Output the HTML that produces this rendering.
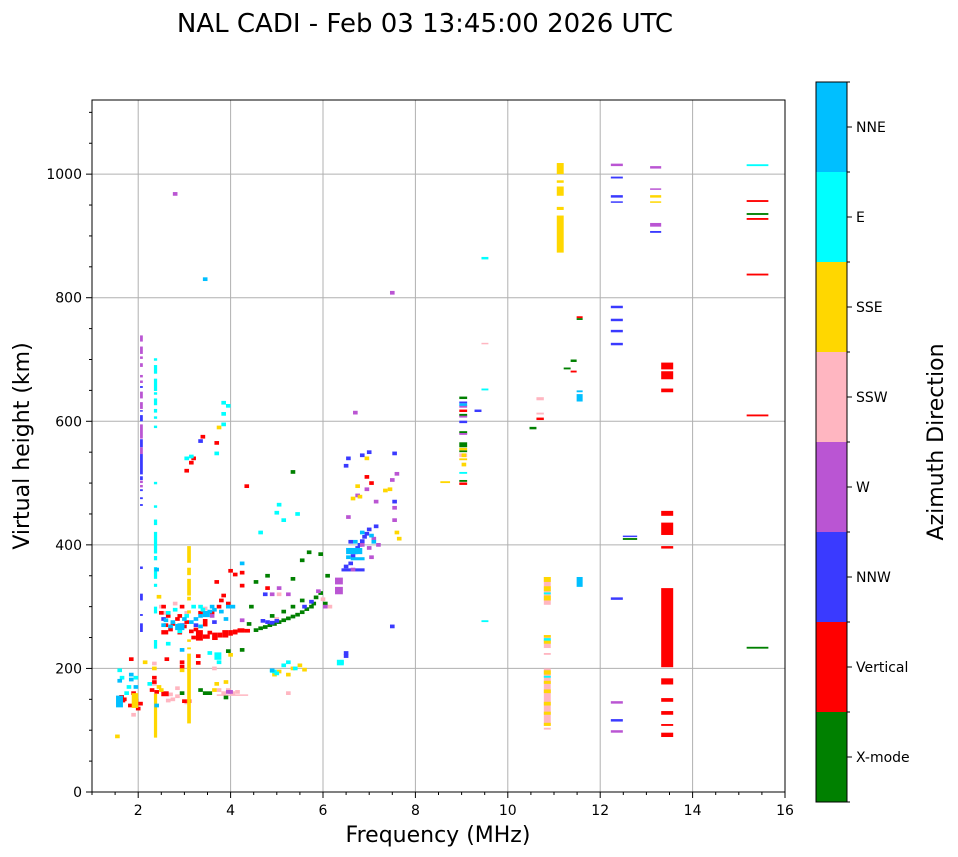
<!DOCTYPE html>
<html><head><meta charset="utf-8">
<style>
html,body{margin:0;padding:0;background:#fff;}
svg{display:block;font-family:"DejaVu Sans","Liberation Sans",sans-serif;}
</style></head>
<body>
<svg id="chart" width="958" height="857" viewBox="0 0 958 857" xmlns="http://www.w3.org/2000/svg">
<text x="425" y="32" font-size="26" text-anchor="middle">NAL CADI - Feb 03 13:45:00 2026 UTC</text>
<g id="grid"></g>
<g id="marks"></g>
<rect x="92" y="100" width="693" height="692" fill="none" stroke="#000" stroke-width="1"/>
<g id="axes"></g>
<text x="438" y="842" font-size="22" text-anchor="middle">Frequency (MHz)</text>
<text transform="translate(29,446) rotate(-90)" font-size="22" text-anchor="middle">Virtual height (km)</text>
<g id="cbar"></g>
<text transform="translate(943,442) rotate(-90)" font-size="22" text-anchor="middle">Azimuth Direction</text>
</svg>
<script>
const xTicks = [2,4,6,8,10,12,14,16];
const yTicks = [0,200,400,600,800,1000];
const dirLabels = ["X-mode","Vertical","NNW","W","SSW","SSE","E","NNE"];
const dirColors = ["#008000","#ff0000","#3a3aff","#ba55d3","#ffb6c1","#ffd700","#00ffff","#00bfff"];

const xMode = [[4.5,262],[4.6,265],[4.7,267],[4.8,270],[4.9,272],[5.0,275],[5.1,278],[5.2,281],[5.3,284],[5.4,287],[5.5,291],[5.6,296],[5.7,300],[5.75,305],[5.8,315],[5.9,322],[5.5,310],[5.3,300],[5.1,292],[4.85,285],[4.4,300],[4.5,340],[4.75,350],[5.3,345],[5.5,375],[5.65,388],[5.9,385],[6.05,350],[4.35,272],[5.3,518],[3.3,165],[3.4,160],[3.5,160],[3.85,153],[3.9,228],[2.9,160],[4.2,230],[6.0,305],
 [8.95,9.12,636,640],[8.95,9.12,608,612],[8.95,9.12,580,584],[8.95,9.12,558,566],[8.95,9.12,550,553],[8.95,9.12,502,505],[10.47,10.62,587,591],[11.21,11.36,684,687],[11.36,11.49,696,700],[11.49,11.62,764,767],[12.49,12.8,408,411],[15.17,15.64,232,235],[15.17,15.64,934,937]];
const vertical = [[1.59,154],[1.65,150],[1.8,215],[1.85,160],[1.78,140],[1.9,148],[2.0,143],[1.95,135],[2.3,185],[2.3,178],[2.25,165],[2.35,162],[2.57,215],[2.9,210],[2.9,203],[2.95,147],[3.05,147],[3.25,220],[3.25,209],[2.45,290],[2.5,300],[2.55,270],[2.6,285],[2.65,263],[2.7,272],[2.8,280],[2.85,258],[2.9,300],[2.95,268],[3.0,275],[3.1,260],[3.15,250],[3.2,263],[3.5,258],[3.55,290],[3.7,300],[3.75,310],[3.8,318],[3.9,305],[4.05,352],[3.95,358],[3.65,340],[4.2,355],[4.3,495],[3.35,575],[3.65,565],[3.15,540],[3.1,533],[3.0,520],[4.2,334],[4.75,330],[2.85,285],[3.3,290],[7.0,500],[6.9,510],
 [3.25,3.4,245,262],[3.4,3.55,248,255],[3.6,3.72,246,258],[3.72,3.82,250,258],[3.82,3.95,250,262],[3.95,4.05,253,262],[4.05,4.15,255,263],[4.15,4.3,258,265],[4.3,4.42,258,264],[2.5,2.66,155,163],[1.55,1.72,145,152],[2.5,2.65,255,262],[3.4,3.5,268,280],
 [13.32,13.58,684,695],[13.32,13.58,668,681],[13.32,13.58,647,653],[13.32,13.58,447,455],[13.32,13.58,416,436],[13.32,13.58,394,398],[13.32,13.58,202,330],[13.32,13.58,174,184],[13.32,13.58,146,152],[13.32,13.58,125,131],[13.32,13.58,107,110],[13.32,13.58,89,96],[15.17,15.64,955,958],[15.17,15.64,926,929],[15.17,15.64,836,839],[15.17,15.64,608,611],[11.36,11.49,679,682],[11.49,11.62,767,770],[10.62,10.78,602,606],[8.95,9.12,615,619],[8.95,9.12,497,501]];
const nnw = [[4.65,277],[4.75,275],[4.85,274],[4.95,277],[5.55,300],[5.7,308],[6.45,365],[6.55,370],[6.6,382],[6.65,388],[6.7,395],[6.75,400],[6.8,406],[6.85,413],[6.9,418],[6.95,425],[6.55,405],[6.45,528],[6.5,540],[6.8,545],[6.95,550],[7.5,548],[7.1,430],[7.5,470],[6.45,220],[6.45,225],[7.45,268],[3.3,568],[2.5,280],[3.2,270],[2.9,270],[3.6,275],[4.7,320],
 [2.04,2.1,654,657],[2.04,2.1,616,618],[2.04,2.1,600,610],[2.04,2.1,558,571],[2.04,2.1,514,547],[2.04,2.1,505,511],[2.04,2.1,487,490],[2.04,2.1,474,477],[2.04,2.1,463,466],[2.04,2.1,361,365],[2.04,2.1,310,321],[2.04,2.1,285,288],[2.04,2.1,259,273],
 [9.28,9.43,615,619],[8.95,9.12,629,632],[8.95,9.12,597,601],[12.23,12.49,993,996],[12.23,12.49,962,966],[12.23,12.49,954,956],[13.08,13.32,905,908],[12.23,12.49,783,787],[12.23,12.49,762,766],[12.23,12.49,744,748],[12.23,12.49,723,727],[12.23,12.49,311,315],[12.23,12.49,114,118],[12.49,12.8,413,415],[6.4,6.9,357,362]];
const w = [[6.6,360],[6.5,445],[6.7,480],[6.9,490],[7.1,470],[7.5,440],[7.5,460],[7.55,515],[7.45,505],[7.05,410],[7.0,380],[7.45,808],[6.65,614],[6.0,300],[5.85,325],[3.9,162],[3.95,162],[4.2,278],[3.55,285],[2.75,968],[6.8,400],[6.95,395],[7.15,400],[5.0,330],[5.2,320],[4.85,320],
 [2.04,2.1,729,739],[2.04,2.1,709,721],[2.04,2.1,701,705],[2.04,2.1,688,694],[2.04,2.1,671,675],[2.04,2.1,662,666],[2.04,2.1,637,648],[2.04,2.1,620,631],[2.04,2.1,572,595],[2.04,2.1,547,558],[2.04,2.1,500,504],[2.04,2.1,493,497],
 [12.23,12.49,1013,1017],[13.08,13.32,1009,1013],[13.08,13.32,975,977],[13.08,13.32,915,921],[12.23,12.49,143,147],[12.23,12.49,96,100],[8.95,9.12,622,626],[8.95,9.12,606,609],[8.95,9.12,578,581],[6.26,6.43,320,332],[6.26,6.43,336,347]];
const ssw = [[1.85,125],[2.3,175],[2.3,208],[2.65,158],[2.7,150],[2.8,155],[2.6,148],[3.0,145],[2.8,168],[3.7,165],[3.8,160],[3.9,165],[4.0,160],[4.1,162],[5.2,160],[4.95,280],[6.1,300],[5.95,312],[2.45,300],[2.5,290],[2.75,305],[3.0,290],[3.6,200],[3.4,297],[5.0,320],
 [3.7,4.38,156,158],[10.62,10.78,634,639],[10.62,10.78,611,614],[9.43,9.58,725,727],[8.95,9.12,542,548],[10.78,10.93,101,104],[10.78,10.93,222,225],[10.78,10.93,107,200],[10.78,10.93,303,348],[10.78,10.93,233,254]];
const sse = [[1.5,90],[2.3,200],[2.4,170],[2.45,165],[2.9,197],[3.65,175],[3.85,178],[3.95,222],[3.6,165],[4.9,190],[5.0,195],[5.2,190],[5.3,200],[5.45,205],[5.55,198],[6.7,495],[6.9,540],[7.4,490],[7.6,410],[7.55,420],[6.6,475],[6.75,478],[2.4,316],[3.7,590],[7.3,488],[9.0,545],[9.0,530],[2.1,210],
 [11.06,11.21,1000,1018],[11.06,11.21,986,990],[11.06,11.21,965,980],[11.06,11.21,942,947],[11.06,11.21,873,933],[13.08,13.32,962,966],[13.08,13.32,954,956],[2.34,2.41,88,159],[3.06,3.14,111,224],[3.06,3.14,231,234],[3.06,3.14,243,247],[3.06,3.14,289,294],[3.06,3.14,310,316],[3.06,3.14,318,345],[3.06,3.14,351,363],[3.06,3.14,371,398],[1.86,2.0,136,160],[8.54,8.75,500,503],[8.95,9.12,553,557],[8.95,9.12,537,540],
 [10.78,10.93,107,112],[10.78,10.93,125,130],[10.78,10.93,140,146],[10.78,10.93,160,166],[10.78,10.93,175,180],[10.78,10.93,190,197],[10.78,10.93,240,246],[10.78,10.93,250,254],[10.78,10.93,310,318],[10.78,10.93,325,333],[10.78,10.93,340,348]];
const e = [[1.55,197],[1.6,185],[1.75,170],[1.7,160],[1.9,185],[2.2,175],[2.6,290],[2.75,295],[2.85,260],[3.0,285],[3.15,300],[3.35,295],[3.5,225],[3.7,210],[3.8,595],[3.8,612],[3.65,548],[3.1,543],[3.0,540],[4.95,452],[5.0,465],[5.4,450],[4.6,420],[5.1,440],[4.85,196],[4.95,192],[5.1,205],[5.2,210],[5.35,200],[4.9,195],[3.8,630],[3.9,625],[2.6,240],[3.3,300],[6.35,210],
 [2.34,2.41,698,702],[2.34,2.41,677,691],[2.34,2.41,649,669],[2.34,2.41,643,647],[2.34,2.41,626,637],[2.34,2.41,614,620],[2.34,2.41,604,608],[2.34,2.41,589,593],[2.34,2.41,498,502],[2.34,2.41,460,464],[2.34,2.41,432,441],[2.34,2.41,386,421],[2.34,2.41,375,382],[2.34,2.41,345,364],[2.34,2.41,332,337],[2.34,2.41,289,300],[2.34,2.41,232,246],
 [15.17,15.64,1013,1016],[9.43,9.58,862,866],[9.43,9.58,650,653],[9.43,9.58,275,278],[8.95,9.12,515,518],[10.78,10.93,185,188],[10.78,10.93,245,249],[10.78,10.93,320,323],[6.3,6.45,205,214],[3.65,3.8,214,226]];
const nne = [[1.55,180],[1.8,190],[1.8,182],[1.9,170],[2.35,140],[2.5,270],[2.7,275],[2.85,270],[2.95,280],[3.1,275],[3.2,280],[3.3,285],[3.5,292],[3.6,295],[3.75,292],[3.9,300],[4.2,370],[3.55,300],[2.9,230],[4.85,197],[3.85,280],[4.0,300],[6.5,380],[6.7,390],[6.8,420],[7.0,415],[7.05,405],[6.65,405],[3.4,830],[2.35,360],[2.55,278],[2.65,268],[3.3,268],
 [1.52,1.67,137,156],[11.49,11.62,632,644],[11.49,11.62,647,650],[11.49,11.62,332,348],[8.95,9.12,625,629],[2.8,3.0,262,272],[3.4,3.55,283,293],[6.5,6.85,385,395],[6.6,6.9,375,380]];
const seriesList = [xMode, vertical, nnw, w, ssw, sse, e, nne];
const drawOrder = [4,0,1,2,3,5,6,7];

const NS = "http://www.w3.org/2000/svg";
const X = f => 92 + (f - 1) * (693 / 15);
const Y = h => 792 - h * (692 / 1120);
function mk(tag, attrs, parent){const el=document.createElementNS(NS,tag);for(const k in attrs)el.setAttribute(k,attrs[k]);parent.appendChild(el);return el;}

const grid = document.getElementById('grid');
const axes = document.getElementById('axes');
xTicks.forEach(t=>{
  const gl = mk('line',{x1:X(t),x2:X(t),y1:100,y2:792,stroke:'#b0b0b0','stroke-width':1},grid);
  
  
  const tk = mk('line',{x1:X(t),x2:X(t),y1:792,y2:798,stroke:'#000'},axes);
  
  
  const lb = mk('text',{x:X(t),y:815,'font-size':14,'text-anchor':'middle'},axes);
  lb.textContent = t;
  
  
});
for(let f=1; f<=16; f+=0.5){ if(f%2!==0){ const m=mk('line',{x1:X(f),x2:X(f),y1:792,y2:795,stroke:'#000'},axes);
  
   } }
yTicks.forEach(t=>{
  if(t>0){ const gl = mk('line',{x1:92,x2:785,y1:Y(t),y2:Y(t),stroke:'#b0b0b0','stroke-width':1},grid);
  
   }
  const tk = mk('line',{x1:86,x2:92,y1:Y(t),y2:Y(t),stroke:'#000'},axes);
  
  
  const lb = mk('text',{x:82,y:Y(t)+5,'font-size':14,'text-anchor':'end'},axes);
  lb.textContent = t;
  
  
});
for(let h=50; h<1120; h+=50){ if(h%200!==0){ const m=mk('line',{x1:89,x2:92,y1:Y(h),y2:Y(h),stroke:'#000'},axes);
  
   } }

const marks = document.getElementById('marks');
drawOrder.forEach(d=>{
  seriesList[d].forEach(p=>{
    let f0,f1,h0,h1;
    if(p.length===2){f0=p[0];f1=p[0]+0.1;h0=p[1]-3;h1=p[1]+3;}
    else {f0=p[0];f1=p[1];h0=p[2];h1=p[3];}
    const r = mk('rect',{x:X(f0),y:Y(h1),width:Math.max(1,X(f1)-X(f0)),height:Math.max(1.5,Y(h0)-Y(h1)),fill:dirColors[d]},marks);
    
    
  });
});

const cb = document.getElementById('cbar');
const segH = 90, cbTop = 82, cbX = 816, cbW = 31;
dirLabels.forEach((lab,i)=>{
  const top = cbTop + (7-i)*segH;
  const r = mk('rect',{x:cbX,y:top,width:cbW,height:segH,fill:dirColors[i]},cb);
  
  
  const tk = mk('line',{x1:cbX+cbW,x2:cbX+cbW+5,y1:top+segH/2,y2:top+segH/2,stroke:'#000'},cb);
  
  
  const t = mk('text',{x:856,y:top+segH/2+5,'font-size':14},cb);
  t.textContent = lab;
  
  
});
for(let i=0;i<=8;i++){ const m=mk('line',{x1:cbX+cbW,x2:cbX+cbW+3,y1:cbTop+i*segH,y2:cbTop+i*segH,stroke:'#000'},cb);
  
   }
const fr = mk('rect',{x:cbX,y:cbTop,width:cbW,height:segH*8,fill:'none',stroke:'#000','stroke-width':1},cb);


</script>
</body></html>
